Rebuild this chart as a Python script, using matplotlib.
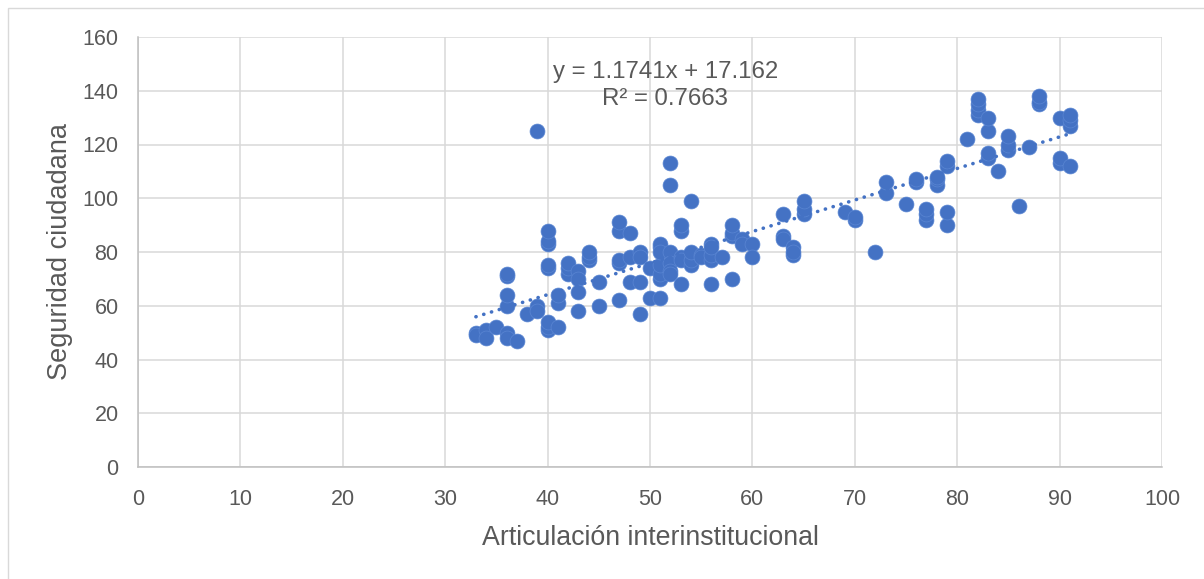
import matplotlib
matplotlib.use("Agg")
import matplotlib.pyplot as plt
from matplotlib.patches import Rectangle

# ---- data ----
articulacion = [
    33, 33, 34, 34, 35, 36, 36, 37, 36, 36, 36, 36, 38, 39, 39, 39,
    40, 40, 40, 40, 40, 40, 40, 40, 41, 41, 41, 42, 42, 42, 43, 43, 43, 43,
    44, 44, 44, 45, 45, 47, 47, 47, 47, 47, 48, 48, 48, 49, 49, 49, 49,
    50, 50, 51, 51, 51, 51, 51, 51, 51, 52, 52, 52, 52, 52, 52, 53, 53, 53, 53, 53,
    54, 54, 54, 54, 55, 55, 56, 56, 56, 56, 56, 57, 58, 58, 58, 58, 59, 59, 60, 60,
    63, 63, 63, 64, 64, 64, 65, 65, 65, 69, 70, 70, 72, 73, 73, 75, 76, 76,
    77, 77, 77, 78, 78, 78, 79, 79, 79, 79, 81, 82, 82, 82, 82, 83, 83, 83, 83,
    84, 85, 85, 85, 86, 87, 88, 88, 88, 90, 90, 90, 91, 91, 91, 91,
]
seguridad = [
    50, 49, 51, 48, 52, 50, 48, 47, 60, 64, 71, 72, 57, 60, 58, 125,
    51, 52, 54, 74, 75, 83, 84, 88, 52, 61, 64, 72, 74, 76, 73, 70, 65, 58,
    77, 78, 80, 69, 60, 62, 76, 77, 88, 91, 87, 78, 69, 80, 78, 69, 57,
    74, 63, 63, 70, 72, 75, 82, 83, 80, 113, 105, 80, 76, 73, 72, 68, 78, 88, 90, 77,
    99, 75, 77, 80, 79, 78, 77, 79, 83, 68, 82, 78, 70, 86, 87, 90, 85, 83, 83, 78,
    94, 86, 85, 82, 79, 80, 94, 96, 99, 95, 92, 93, 80, 102, 106, 98, 106, 107,
    92, 94, 96, 105, 107, 108, 90, 95, 112, 114, 122, 131, 133, 135, 137, 115, 117, 125, 130,
    110, 118, 120, 123, 97, 119, 135, 136, 138, 113, 115, 130, 112, 127, 129, 131,
]
trend_slope = 1.1741
trend_intercept = 17.162
equation_text = "y = 1.1741x + 17.162"
r2_text = "R² = 0.7663"
x_ticks = [0, 10, 20, 30, 40, 50, 60, 70, 80, 90, 100]
y_ticks = [0, 20, 40, 60, 80, 100, 120, 140, 160]
x_label = "Articulación interinstitucional"
y_label = "Seguridad ciudadana"

# ---- style ----
plt.rcParams['font.family'] = ['Liberation Sans', 'DejaVu Sans']
blue = '#4472C4'
text_gray = '#595959'
grid_gray = '#D9D9D9'

W, H = 1204, 579
fig = plt.figure(figsize=(W / 100, H / 100), dpi=100)
fig.patch.set_facecolor('white')

# outer chart frame
fig.patches.append(Rectangle((8 / W, -0.05), 1.2, (H - 8) / H + 0.05,
                             transform=fig.transFigure, fill=False,
                             edgecolor=grid_gray, linewidth=1.0))

ax = fig.add_axes([138 / W, 112 / H, 1024 / W, 430 / H])
ax.set_xlim(0, 100)
ax.set_ylim(0, 160)
ax.set_xticks(x_ticks)
ax.set_yticks(y_ticks)
ax.grid(True, color=grid_gray, linewidth=1.1)
ax.set_axisbelow(True)
for side in ['top', 'right']:
    ax.spines[side].set_visible(False)
for side in ['left', 'bottom']:
    ax.spines[side].set_color('#BFBFBF')
    ax.spines[side].set_linewidth(1.1)
ax.tick_params(length=0, labelsize=15.5, colors=text_gray)
ax.tick_params(axis='y', pad=14)
ax.tick_params(axis='x', pad=16)

ax.scatter(articulacion, seguridad, s=115, color=blue, edgecolor='#5A86D3',
           linewidth=0.5, zorder=3, clip_on=False)

x0, x1 = min(articulacion), max(articulacion)
ax.plot([x0, x1], [trend_slope * x0 + trend_intercept, trend_slope * x1 + trend_intercept],
        color=blue, linewidth=2.6, linestyle=(0, (0.05, 2.2)),
        dash_capstyle='round', zorder=4)

ax.text(51.5, 146.8, equation_text, ha='center', va='center',
        fontsize=17.3, color=text_gray, zorder=5)
ax.text(51.5, 136.8, r2_text, ha='center', va='center',
        fontsize=17.3, color=text_gray, zorder=5)

ax.set_xlabel(x_label, fontsize=19.3, color=text_gray)
ax.set_ylabel(y_label, fontsize=19.5, color=text_gray)
ax.xaxis.label.set_va('center')
ax.yaxis.label.set_va('center')
ax.xaxis.set_label_coords(0.5, (467 - 538) / 430)
ax.yaxis.set_label_coords((60 - 138) / 1024, 0.5)

fig.savefig('out.png', dpi=100)
